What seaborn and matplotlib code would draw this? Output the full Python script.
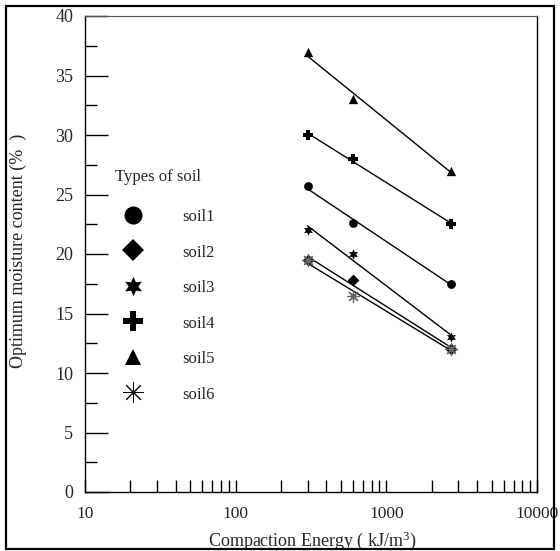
import matplotlib
matplotlib.use("Agg")
import matplotlib.pyplot as plt
import seaborn as sns
import numpy as np
from matplotlib.lines import Line2D
from matplotlib.patches import Rectangle
from matplotlib.ticker import FixedLocator, NullFormatter

# ---- data ----
energy = [300, 600, 2700]
soil1 = [25.7, 22.6, 17.5]
soil2 = [19.5, 17.8, 12.0]
soil3 = [22.0, 20.0, 13.0]
soil4 = [30.0, 28.0, 22.5]
soil5 = [37.0, 33.0, 27.0]
soil6 = [19.5, 16.5, 12.0]
soil_names = ["soil1", "soil2", "soil3", "soil4", "soil5", "soil6"]
x_ticks = [10, 100, 1000, 10000]
x_ticklabels = ["10", "100", "1000", "10000"]
y_ticks = [0, 5, 10, 15, 20, 25, 30, 35, 40]

sns.set_style("white")
plt.rcParams["font.family"] = ["Liberation Serif", "DejaVu Serif"]
plt.rcParams["mathtext.fontset"] = "custom"
plt.rcParams["mathtext.rm"] = "Liberation Serif"
plt.rcParams["mathtext.it"] = "Liberation Serif:italic"

fig = plt.figure(figsize=(5.6, 5.51), dpi=100)
ax = fig.add_axes([85 / 560, 1 - 492 / 551, (537 - 85) / 560, (492 - 16) / 551])

series = [soil1, soil2, soil3, soil4, soil5, soil6]
markers = ["o", "D", (6, 1, 0), "P", "^", (8, 2, 0)]
sizes = [40, 36, 55, 55, 45, 70]
mcolors = ["black"] * 5 + ["#666666"]
mlw = [0, 0, 0, 0, 0, 0.9]

for vals, mk, s, mc, lw in zip(series, markers, sizes, mcolors, mlw):
    sns.regplot(x=energy, y=vals, logx=True, ci=None, truncate=True,
                marker=mk, color="black", ax=ax,
                scatter_kws=dict(s=s, color=mc, alpha=1, linewidths=lw,
                                 edgecolors=mc, zorder=3),
                line_kws=dict(color="black", lw=1.0, zorder=2))

ax.set_xscale("log")
ax.set_xlim(10, 10000)
ax.set_ylim(0, 40)

ax.xaxis.set_major_locator(FixedLocator(x_ticks))
ax.set_xticklabels(x_ticklabels)
minor = [m * 10 ** d for d in range(1, 4) for m in range(2, 10)]
ax.xaxis.set_minor_locator(FixedLocator(minor))
ax.xaxis.set_minor_formatter(NullFormatter())
ax.yaxis.set_major_locator(FixedLocator(y_ticks))
ax.set_yticklabels([str(v) for v in y_ticks])
ax.yaxis.set_minor_locator(FixedLocator([v + 2.5 for v in y_ticks[:-1]]))

ax.tick_params(axis="x", which="both", direction="in", length=8.5, width=1,
               color="black", bottom=True, top=False, labelsize=12.5, pad=10)
ax.tick_params(axis="y", which="major", direction="in", length=16.5, width=1,
               color="black", left=True, right=False, labelsize=13, pad=8.5)
ax.tick_params(axis="y", which="minor", direction="in", length=8.5, width=1,
               color="black", left=True, right=False)

for side in ["left", "bottom", "right"]:
    ax.spines[side].set_color("black")
    ax.spines[side].set_linewidth(1.0)
ax.spines["top"].set_color("#555555")
ax.spines["top"].set_linewidth(0.8)

ax.set_xlabel("Compaction Energy ( kJ/m$^{3}$)", fontsize=13)
ax.set_ylabel("Optimum moisture content (%  )", fontsize=13)
ax.xaxis.set_label_coords(0.502, -0.079)
ax.yaxis.set_label_coords(-0.129, 0.506)

leg_markers = ["o", "D", (6, 1, 0), "P", "^", (8, 2, 0)]
leg_sizes = [13, 11, 14, 14, 12, 15]
handles = []
for mk, ms in zip(leg_markers, leg_sizes):
    handles.append(Line2D([], [], linestyle="None", marker=mk, markersize=ms,
                          color="black", markeredgewidth=0.7 if mk == (8, 2, 0) else 0))
leg = ax.legend(handles, soil_names, title="Types of soil", frameon=False,
                loc="upper left", bbox_to_anchor=(115 / 560, 1 - 169 / 551),
                bbox_transform=fig.transFigure, borderpad=0, borderaxespad=0,
                fontsize=12, title_fontsize=12, handlelength=2.2,
                handletextpad=1.85, labelspacing=1.1, handleheight=1.0,
                alignment="left")
# extra gap between legend title and entries, as in the reference
leg._legend_box.sep = 1.1 * 12 + 3.6

fig.patches.append(Rectangle((6 / 560, 1 - 549 / 551), (554 - 6) / 560,
                             (549 - 6) / 551, transform=fig.transFigure,
                             fill=False, edgecolor="black", linewidth=1.6))

fig.savefig("out.png", dpi=100, facecolor="white")
